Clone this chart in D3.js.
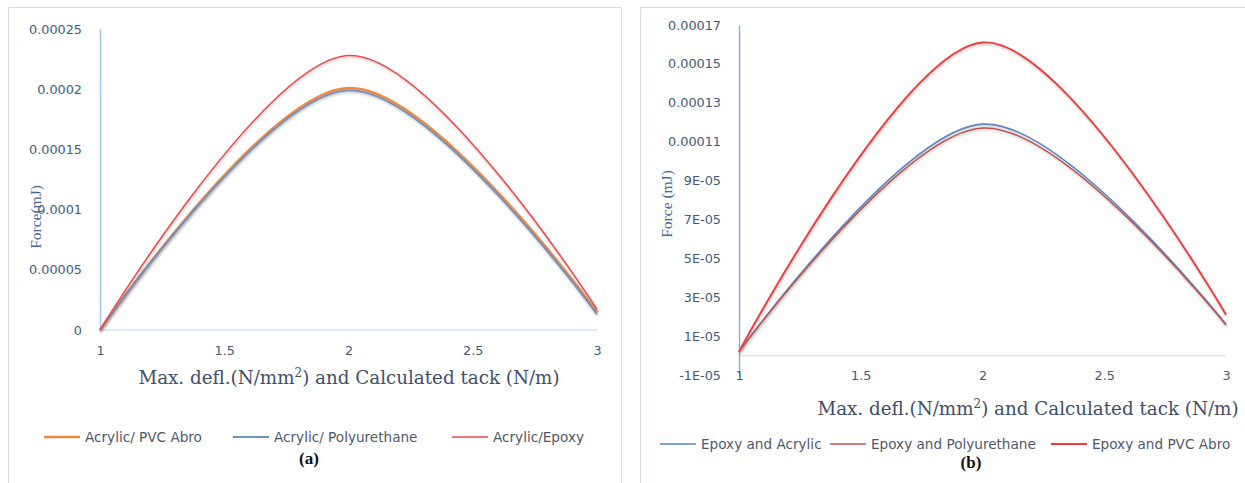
<!DOCTYPE html>
<html>
<head>
<meta charset="utf-8">
<script src="https://cdn.jsdelivr.net/npm/d3@7/dist/d3.min.js"></script>
<style>
  html, body { margin: 0; padding: 0; background: #fff; }
  svg { display: block; }
</style>
</head>
<body>
<script>
// Shared x positions (deflection / tack)
const xValues = [1, 2, 3];
const xTicks = [1, 1.5, 2, 2.5, 3];
const xTickLabels = ["1", "1.5", "2", "2.5", "3"];

// Panel (a): acrylic combinations
const seriesNamesA = ["Acrylic/ PVC Abro", "Acrylic/ Polyurethane", "Acrylic/Epoxy"];
const acrylicPvc   = [0, 0.000201, 0.0000148];
const acrylicPu    = [0, 0.000199, 0.0000132];
const acrylicEpoxy = [0, 0.000228, 0.0000172];
const yTicksA = [0, 0.00005, 0.0001, 0.00015, 0.0002, 0.00025];
const yTickLabelsA = ["0", "0.00005", "0.0001", "0.00015", "0.0002", "0.00025"];

// Panel (b): epoxy combinations
const seriesNamesB = ["Epoxy and Acrylic", "Epoxy and Polyurethane", "Epoxy and PVC Abro"];
const epoxyAcrylic = [0.000002, 0.000119, 0.000016];
const epoxyPu      = [0.000002, 0.000117, 0.0000158];
const epoxyPvc     = [0.000002, 0.000161, 0.000021];
const yTicksB = [-0.00001, 0.00001, 0.00003, 0.00005, 0.00007, 0.00009, 0.00011, 0.00013, 0.00015, 0.00017];
const yTickLabelsB = ["-1E-05", "1E-05", "3E-05", "5E-05", "7E-05", "9E-05", "0.00011", "0.00013", "0.00015", "0.00017"];

const W = 1245, H = 483;
const svg = d3.select("body").append("svg").attr("width", W).attr("height", H);

// soft shadow under the curves
const defs = svg.append("defs");
const f = defs.append("filter").attr("id", "shadow")
  .attr("x", "-5%").attr("y", "-5%").attr("width", "110%").attr("height", "120%");
f.append("feDropShadow").attr("dx", 0.6).attr("dy", 1.6).attr("stdDeviation", 1)
  .attr("flood-color", "#7a7a7a").attr("flood-opacity", 0.45);

const tickFont = "'DejaVu Sans', sans-serif";
const serifFont = "'Liberation Serif', 'DejaVu Serif', serif";
const tickColor = "#44597a";

function drawPanel(o) {
  const g = svg.append("g");

  // panel frame
  g.append("rect")
    .attr("x", o.frame[0] + 0.5).attr("y", o.frame[1] + 0.5)
    .attr("width", o.frame[2]).attr("height", o.frame[3])
    .attr("fill", "#fff").attr("stroke", "#d5dfec").attr("stroke-width", 1);

  const x = d3.scaleLinear().domain([1, 3]).range(o.xRange);
  const y = d3.scaleLinear().domain(o.yDomain).range(o.yRange);

  // horizontal axis line at zero
  g.append("line")
    .attr("x1", x(1)).attr("x2", x(3))
    .attr("y1", y(0)).attr("y2", y(0))
    .attr("stroke", "#d3e1f3").attr("stroke-width", 1.3);

  // y axis
  const yAxis = d3.axisLeft(y)
    .tickValues(o.yTicks)
    .tickFormat((d, i) => o.yTickLabels[i])
    .tickSize(0).tickPadding(o.yPad);
  const ya = g.append("g").attr("transform", `translate(${x(1)},0)`).call(yAxis);
  ya.select(".domain").attr("stroke", o.yAxisColor).attr("stroke-width", o.yAxisWidth);
  ya.selectAll("text").attr("font-family", tickFont).attr("font-size", 12.8).attr("fill", tickColor);

  // x axis labels
  const xAxis = d3.axisBottom(x)
    .tickValues(xTicks)
    .tickFormat((d, i) => xTickLabels[i])
    .tickSize(0).tickPadding(o.xPad);
  const xa = g.append("g").attr("transform", `translate(0,${y(0)})`).call(xAxis);
  xa.select(".domain").remove();
  xa.selectAll("text").attr("font-family", tickFont).attr("font-size", 12.8).attr("fill", tickColor);

  // smoothed curves through the measured points
  const line = d3.line()
    .x((d, i) => x(xValues[i]))
    .y(d => y(d))
    .curve(d3.curveCardinal.tension(0));
  o.series.forEach(s => {
    g.append("path")
      .datum(s.values)
      .attr("d", line)
      .attr("fill", "none")
      .attr("stroke", s.color)
      .attr("stroke-width", s.width)
      .attr("stroke-linejoin", "round")
      .attr("filter", "url(#shadow)");
  });

  // y axis title
  g.append("text")
    .attr("transform", `translate(${o.yTitlePos[0]},${o.yTitlePos[1]}) rotate(-90)`)
    .attr("text-anchor", "middle")
    .attr("font-family", serifFont).attr("font-size", 15.5)
    .attr("fill", "#4a6694")
    .text(o.yTitle);

  // x axis title
  const xt = g.append("text")
    .attr("x", o.xTitlePos[0]).attr("y", o.xTitlePos[1])
    .attr("text-anchor", "middle")
    .attr("font-family", "'DejaVu Serif', serif").attr("font-size", 18.3)
    .attr("fill", "#3f4e69");
  xt.append("tspan").text("Max. defl.(N/mm");
  xt.append("tspan").attr("baseline-shift", "super").attr("font-size", 12).text("2");
  xt.append("tspan").text(") and Calculated tack (N/m)");

  // legend
  o.series.forEach((s, i) => {
    const lx = o.legendX[i];
    g.append("line")
      .attr("x1", lx).attr("x2", lx + 36)
      .attr("y1", o.legendY).attr("y2", o.legendY)
      .attr("stroke", s.color).attr("stroke-width", s.width);
    g.append("text")
      .attr("x", lx + 41).attr("y", o.legendY + 4.8)
      .attr("font-family", tickFont).attr("font-size", 13.6)
      .attr("fill", "#4f586a")
      .text(s.name);
  });

  // panel caption
  g.append("text")
    .attr("x", o.captionPos[0]).attr("y", o.captionPos[1])
    .attr("text-anchor", "middle")
    .attr("font-family", serifFont).attr("font-weight", "bold").attr("font-size", 17)
    .attr("fill", "#111")
    .text(o.caption);
}

drawPanel({
  frame: [8, 7, 613, 490],
  xRange: [100, 597],
  yDomain: [0, 0.00025],
  yRange: [330, 29],
  yTicks: yTicksA, yTickLabels: yTickLabelsA,
  yPad: 18, xPad: 16,
  yAxisColor: "#a9c7ea", yAxisWidth: 1.6,
  series: [
    { name: seriesNamesA[0], values: acrylicPvc,   color: "#f0883c", width: 2.6 },
    { name: seriesNamesA[1], values: acrylicPu,    color: "#6d8fc4", width: 1.8 },
    { name: seriesNamesA[2], values: acrylicEpoxy, color: "#f0454a", width: 1.5 }
  ],
  yTitle: "Force(mJ)", yTitlePos: [41, 217],
  xTitlePos: [349, 384],
  legendX: [44, 233, 452], legendY: 437,
  caption: "(a)", captionPos: [309, 464]
});

drawPanel({
  frame: [640, 7, 620, 490],
  xRange: [739, 1226],
  yDomain: [-0.00001, 0.00017],
  yRange: [375, 25],
  yTicks: yTicksB, yTickLabels: yTickLabelsB,
  yPad: 18, xPad: 15,
  yAxisColor: "#7fa8de", yAxisWidth: 1.3,
  series: [
    { name: seriesNamesB[0], values: epoxyAcrylic, color: "#5b86c2", width: 1.6 },
    { name: seriesNamesB[1], values: epoxyPu,      color: "#c0504d", width: 1.4 },
    { name: seriesNamesB[2], values: epoxyPvc,     color: "#f03a3e", width: 1.9 }
  ],
  yTitle: "Force (mJ)", yTitlePos: [672, 204],
  xTitlePos: [1028, 415],
  legendX: [660, 830, 1051], legendY: 444,
  caption: "(b)", captionPos: [971, 468]
});
</script>
</body>
</html>
